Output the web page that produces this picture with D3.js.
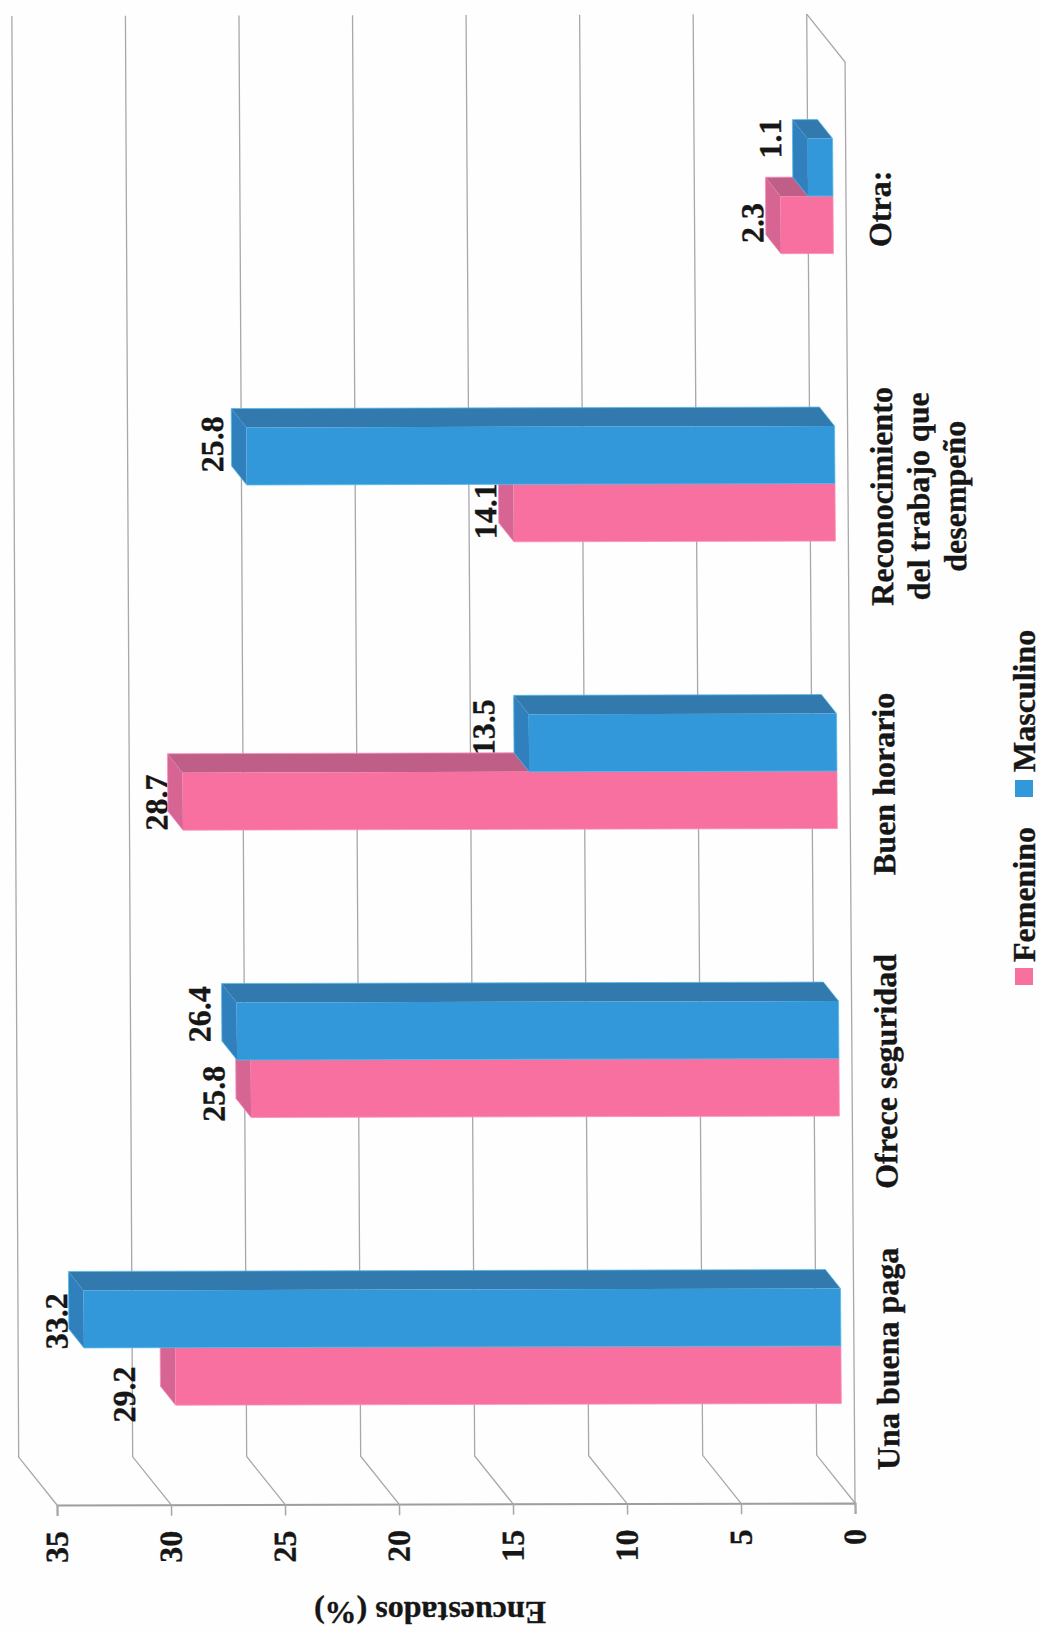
<!DOCTYPE html>
<html><head><meta charset="utf-8">
<script src="https://cdn.jsdelivr.net/npm/d3@7"></script>
<style>html,body{margin:0;padding:0;background:#fefefe}svg{display:block}
text{font-family:"Liberation Serif",serif;font-weight:bold;fill:#161616;stroke:#161616;stroke-width:0.35px}</style>
</head><body><svg id="c" width="1041" height="1633"></svg>
<script>
const categories = ["Una buena paga","Ofrece seguridad","Buen horario","Reconocimiento del trabajo que desempeño","Otra:"];
const categoryLines = [["Una buena paga"],["Ofrece seguridad"],["Buen horario"],["Reconocimiento","del trabajo que","desempeño"],["Otra:"]];
const seriesNames = ["Femenino","Masculino"];
const femenino = [29.2,25.8,28.7,14.1,2.3];
const masculino = [33.2,26.4,13.5,25.8,1.1];
const tickValues = [0,5,10,15,20,25,30,35];
const axisTitle = "Encuestados (%)";

// layout (not data)
const femNudge = [[-51,18],[-37,5],[-26,1],[-28,-2],[-28,-2]];
const masNudge = [[-27,2],[-37,-17],[-45,-16],[-34,-12],[-37,-29]];
const colors = {Femenino:{front:"#f7709f",top:"#bf5f88",end:"#d66594",edge:"#fb8fb6"},
                Masculino:{front:"#3398da",top:"#3279ae",end:"#2f80bd",edge:"#55bce8"}};
const grid = "#aaa6aa";
const ox=855, oy=1503, k=0.0069, m=-0.0025;
const svg = d3.select("#c");
const g = svg.append("g").attr("transform",`matrix(1,${m},${k},1,${-k*oy},${-m*ox})`);

const x = d3.scaleLinear().domain([0,35]).range([855,57]);
const y0 = d3.scaleBand().domain(categories).range([1489.75,52.25]).paddingInner(0.6).paddingOuter(0.3);
const y1 = d3.scaleBand().domain(["Masculino","Femenino"]).range([0,y0.bandwidth()]);
const fullD=[-38,-48], barFront=-13, barD=[-15,-19];

// gridlines
const planeTop=62, planeBottom=1503;
tickValues.forEach(v=>{
  const X=x(v);
  g.append("path").attr("fill","none").attr("stroke",grid).attr("stroke-width",1.3)
   .attr("d",d3.line()([[X,planeBottom],[X+fullD[0],planeBottom+fullD[1]],[X+fullD[0]+v*0.09,planeTop+fullD[1]]]));
});
g.append("path").attr("fill","none").attr("stroke",grid).attr("stroke-width",1.3)
 .attr("d",d3.line()([[x(0),planeBottom],[x(0),planeTop],[x(0)+fullD[0],planeTop+fullD[1]]]));

// axis
const axis = g.append("g").attr("transform",`translate(0,${planeBottom})`)
  .call(d3.axisBottom(x).tickValues(tickValues).tickSize(11).tickPadding(0).tickFormat(d3.format("d")));
axis.select(".domain").attr("stroke","#a09ca0").attr("stroke-width",2);
axis.selectAll(".tick line").attr("stroke",grid).attr("stroke-width",1.5);
axis.selectAll(".tick text").attr("transform","translate(-1,26) rotate(-90)")
  .attr("y",0).attr("dy","0.34em").attr("x",0).attr("text-anchor","end")
  .style("font-size","32px").style("font-family",'"Liberation Serif",serif').attr("fill","#161616");

const bx = i=>x(0)+barFront;
function labels(name,vals,nudge){
  vals.forEach((v,i)=>{
    const cy=y0(categories[i])+y1(name)+y1.bandwidth()/2;
    const ex=x(v)+barFront;
    g.append("text").attr("transform",`translate(${ex+nudge[i][0]},${cy+nudge[i][1]}) rotate(-90)`)
     .attr("text-anchor","middle").attr("dy","0.33em").style("font-size","32px").text(v.toFixed(1));
  });
}
labels("Femenino",femenino,femNudge);
labels("Masculino",masculino,masNudge);

function bars(name,vals){
  const c=colors[name];
  vals.forEach((v,i)=>{
    const t=y0(categories[i])+y1(name), h=y1.bandwidth(), l=x(v)+barFront, r=bx(i);
    const [dx,dy]=barD;
    const gg=g.append("g");
    gg.append("polygon").attr("fill",c.top).attr("points",[[l,t],[r,t],[r+dx,t+dy],[l+dx,t+dy]].join(" "));
    gg.append("polygon").attr("fill",c.end).attr("points",[[l,t],[l+dx,t+dy],[l+dx,t+h+dy],[l,t+h]].join(" "));
    gg.append("rect").attr("x",l).attr("y",t).attr("width",r-l).attr("height",h).attr("fill",c.front);
    gg.append("path").attr("fill","none").attr("stroke",c.edge).attr("stroke-width",0.8)
      .attr("d",d3.line()([[r+dx,t+dy],[l+dx,t+dy],[l+dx,t+h+dy],[l,t+h],[r,t+h],[r,t],[r+dx,t+dy]]));
  });
}
bars("Femenino",femenino);
bars("Masculino",masculino);

// category labels
categoryLines.forEach((lines,i)=>{
  const cy=y0(categories[i])+y0.bandwidth()/2+13;
  lines.forEach((s,j)=>{
    g.append("text").attr("transform",`translate(${889+j*36.5},${cy}) rotate(-90)`)
     .attr("text-anchor","middle").attr("dy","0.33em").style("font-size","32px").text(s);
  });
});

// axis title
svg.append("text").attr("transform","translate(430,1613) rotate(180)").attr("text-anchor","middle")
  .attr("dy","0.33em").style("font-size","32px").text(axisTitle);

// legend
const legend=[["Femenino",968,962],["Masculino",780,772]];
seriesNames.forEach((n,i)=>{
  svg.append("rect").attr("x",1015).attr("y",legend[i][1]).attr("width",18).attr("height",17).attr("fill",colors[n].front);
  svg.append("text").attr("transform",`translate(1024,${legend[i][2]}) rotate(-90)`).attr("dy","0.33em")
    .style("font-size","32px").text(n);
});
</script></body></html>
